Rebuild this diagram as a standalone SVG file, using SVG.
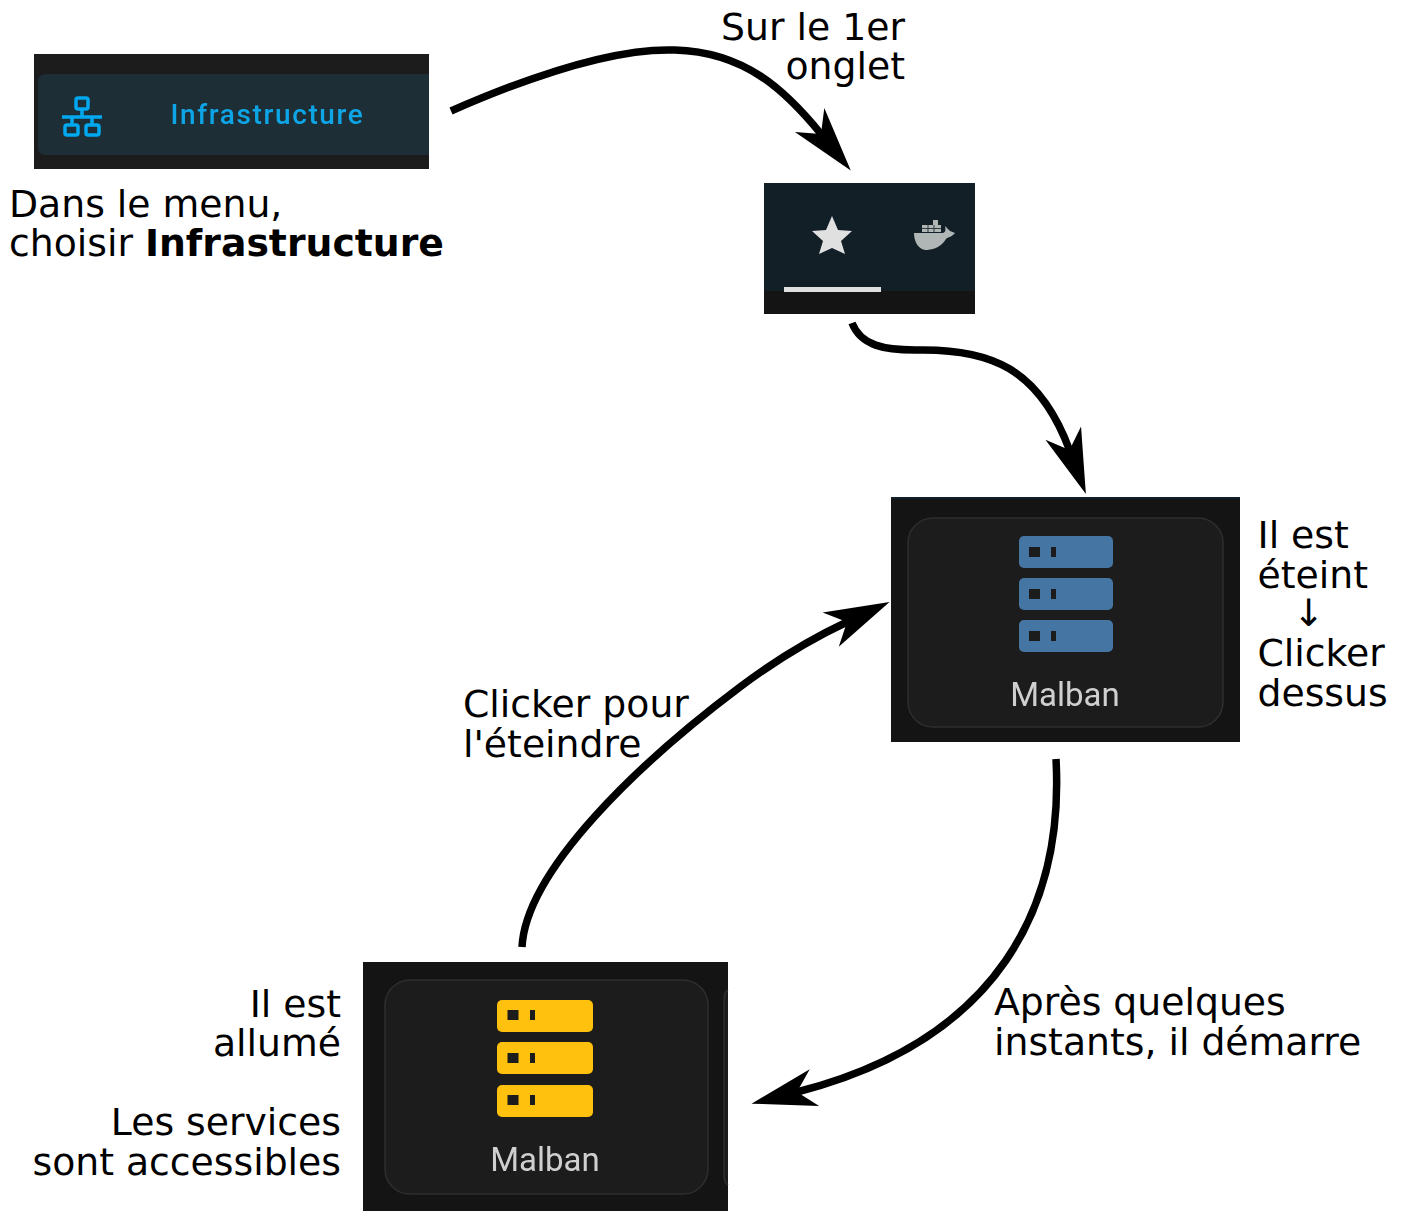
<svg xmlns="http://www.w3.org/2000/svg" width="1402" height="1211" viewBox="0 0 1402 1211">
  <style>
    .t { font-family: "DejaVu Sans", sans-serif; font-size: 37.75px; fill: #000; }
    .e { text-anchor: end; }
    .c { fill: none; stroke: #000; stroke-width: 7.5; marker-end: url(#head); }
    .card { fill: #1c1c1c; stroke: #2e2e2e; stroke-width: 1.5; }
    .m { font-family: Roboto, "Liberation Sans", sans-serif; font-size: 33px; fill: #cfcfcf; text-anchor: middle; }
    .hole { fill: #1c1c1c; }
    .off { fill: #4575a3; }
    .on { fill: #ffc107; }
  </style>
  <defs>
    <filter id="soft" x="-5%" y="-5%" width="110%" height="110%"><feGaussianBlur stdDeviation="0.6"/></filter>
    <marker id="head" markerUnits="userSpaceOnUse" viewBox="-70 -25 75 50" refX="-47" refY="0" markerWidth="75" markerHeight="50" orient="auto">
      <path d="M0,0 L-65,-19 L-47,0 L-65,19 Z" fill="#000"/>
    </marker>
  </defs>
  <rect width="1402" height="1211" fill="#fff"/>

  <g id="menu">
    <rect x="34" y="54" width="395" height="115" fill="#1c1c1c"/>
    <path d="M429,74 H46 Q38,74 38,82 V147 Q38,155 46,155 H429 Z" fill="#1d2e36"/>
    <g filter="url(#soft)">
      <g fill="none" stroke="#06a8f0" stroke-width="3.5">
        <rect x="76" y="98" width="12" height="11" rx="2"/>
        <path d="M82,109 V117 M62,117 H102 M72,117 V125 M92,117 V125"/>
        <rect x="65" y="125" width="13" height="10" rx="2"/>
        <rect x="86" y="125" width="13" height="10" rx="2"/>
      </g>
      <text x="170.5" y="124" style="font-family:Roboto,sans-serif;font-size:28px;letter-spacing:1.62px;font-weight:500" fill="#0ba5e6">Infrastructure</text>
    </g>
    <text class="t" x="9" y="217">Dans le menu,</text>
    <text class="t" x="9" y="256">choisir <tspan font-weight="bold">Infrastructure</tspan></text>
  </g>

  <g id="onglet">
    <rect x="764" y="183" width="211" height="108" fill="#121f26"/>
    <rect x="764" y="291" width="211" height="23" fill="#141414"/>
    <g filter="url(#soft)">
      <polygon points="832,216 838,230 852,231 841,241 845,254 832,248 819,254 823,241 812,231 826,230" fill="#e0e0e0"/>
      <rect x="784" y="287" width="97" height="5" fill="#e0e0e0"/>
      <path d="M914,233 H942 C945,233 946,231 945,226 L950,231 L955,233 C952,237 948,237 946,239 C941,248 931,250 925,250 C918,249 914,241 914,233 Z" fill="#b0b5b6"/>
      <path d="M922,225 H933 V220 H938 V225 H941 V232 H922 Z" fill="#b0b5b6"/>
      <path d="M928,225 V232 M934,225 V232 M922,228.5 H941" stroke="#121f26" stroke-width="0.8" fill="none"/>
    </g>
    <text class="t e" x="905" y="40">Sur le 1er</text>
    <text class="t e" x="905" y="79">onglet</text>
  </g>

  <g id="serveur-eteint">
    <rect x="891" y="497" width="349" height="245" fill="#141414"/>
    <rect x="891" y="497" width="349" height="2" fill="#10202a"/>
    <rect class="card" x="908" y="518" width="315" height="209" rx="25"/>
    <g filter="url(#soft)">
      <rect class="off" x="1019" y="536" width="94" height="32" rx="5"/>
      <rect class="off" x="1019" y="578" width="94" height="32" rx="5"/>
      <rect class="off" x="1019" y="620" width="94" height="32" rx="5"/>
      <rect class="hole" x="1029" y="547" width="11" height="10"/><rect class="hole" x="1051" y="547" width="5" height="10"/>
      <rect class="hole" x="1029" y="589" width="11" height="10"/><rect class="hole" x="1051" y="589" width="5" height="10"/>
      <rect class="hole" x="1029" y="631" width="11" height="10"/><rect class="hole" x="1051" y="631" width="5" height="10"/>
      <text class="m" x="1065" y="706">Malban</text>
    </g>
    <text class="t" x="1257.5" y="548">Il est</text>
    <text class="t" x="1257.5" y="588">éteint</text>
    <text class="t" x="1293" y="626">↓</text>
    <text class="t" x="1257.5" y="666">Clicker</text>
    <text class="t" x="1257.5" y="706">dessus</text>
  </g>

  <g id="serveur-allume">
    <rect x="363" y="962" width="365" height="249" fill="#141414"/>
    <rect class="card" x="385" y="980" width="323" height="214" rx="25"/>
    <path d="M728,990 Q724,992 724,1000 V1175 Q724,1183 728,1185" fill="#1c1c1c" stroke="#2e2e2e" stroke-width="1.5"/>
    <g filter="url(#soft)">
      <rect class="on" x="497" y="1000" width="96" height="32" rx="5"/>
      <rect class="on" x="497" y="1042" width="96" height="32" rx="5"/>
      <rect class="on" x="497" y="1085" width="96" height="32" rx="5"/>
      <rect class="hole" x="507.5" y="1010" width="11" height="10"/><rect class="hole" x="530" y="1010" width="5" height="10"/>
      <rect class="hole" x="507.5" y="1053" width="11" height="10"/><rect class="hole" x="530" y="1053" width="5" height="10"/>
      <rect class="hole" x="507.5" y="1095" width="11" height="10"/><rect class="hole" x="530" y="1095" width="5" height="10"/>
      <text class="m" x="545" y="1171">Malban</text>
    </g>
    <text class="t e" x="341" y="1017">Il est</text>
    <text class="t e" x="341" y="1056">allumé</text>
    <text class="t e" x="341" y="1135">Les services</text>
    <text class="t e" x="341" y="1175">sont accessibles</text>
  </g>

  <g id="labels">
    <text class="t" x="463" y="717">Clicker pour</text>
    <text class="t" x="463" y="757">l'éteindre</text>
    <text class="t" x="994" y="1015">Après quelques</text>
    <text class="t" x="994" y="1055">instants, il démarre</text>
  </g>

  <g id="connectors">
    <path class="c" d="M451,111 C540,72 620,48 675,50 C745,52 785,90 821,134"/>
    <path class="c" d="M852,323 C861,346 885,350 915,350 C990,348 1039,368 1069.5,450"/>
    <path class="c" d="M1056,759 C1064,905 1000,1040 797,1092"/>
    <path class="c" d="M522,947 C526,870 640,762 740,687 C780,657 815,637 847,622"/>
  </g>
</svg>
